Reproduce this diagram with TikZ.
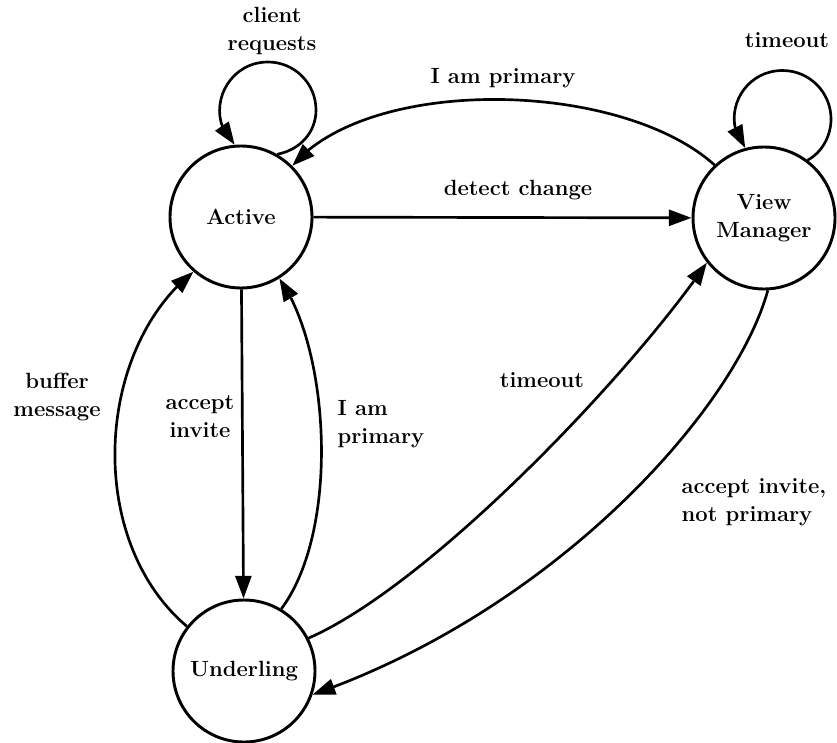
\documentclass[tikz,border=0pt]{standalone}
\usetikzlibrary{arrows.meta,bending}
\begin{document}
\begin{tikzpicture}[x=0.75pt,y=-0.75pt,
  >={Triangle[length=17pt,width=12pt]},
  state/.style={circle,draw,line width=2.2pt,minimum size=106.5pt,inner sep=0pt,align=center,font=\fontsize{16.5}{21}\selectfont\bfseries},
  lbl/.style={inner sep=1pt,align=center,font=\fontsize{16.5}{21}\selectfont\bfseries},
  edge/.style={line width=2pt,->}]
\useasboundingbox (0,0) rectangle (837,742);
\node[state] (A) at (241,217) {Active};
\node[state] (V) at (764,218) {View\\Manager};
\node[state] (U) at (244,671) {Underling};
% self loops
\draw[edge] (A.60) .. controls (299.4,150.1) and (316,132.85) .. (316,110)
  .. controls (316,83.5) and (294.5,62) .. (268,62)
  .. controls (224.5,62) and (203,115.5) .. (A.95);
\draw[edge] (V.53) .. controls (821.7,152.6) and (831,136.3) .. (831,119)
  .. controls (831,92.2) and (809.3,70.5) .. (782.5,70.5)
  .. controls (741.5,70.5) and (719.5,117.7) .. (V.105);
% straight
\draw[edge] (A) -- (V);
\draw[edge] (A) -- (U);
% curves
\draw[edge] (V.133) .. controls (620,80) and (370,75) .. (A.45);
\draw[edge] (U.142) .. controls (85,540) and (95,350) .. (A.229);
\draw[edge] (U.59) .. controls (340,530) and (330,350) .. (A.302.5);
\draw[edge] (U.27) .. controls (430,585) and (630,375) .. (V.218);
\draw[edge] (V.273) .. controls (735,410) and (555,610) .. (U.341);
% labels
\node[lbl] (l1) at (272,31) {client\\requests};
\node[lbl] (l2) at (787,40) {timeout};
\node[lbl] (l3) at (503,78) {I am primary};
\node[lbl] (l4) at (518,190) {detect change};
\node[lbl] (l5) at (57,397) {buffer\\message};
\node[lbl] (l6) at (200,417) {accept\\invite};
\node[lbl,anchor=west,align=left] (l7) at (336,424) {I am\\primary};
\node[lbl] (l8) at (542,380) {timeout};
\node[lbl,anchor=west,align=left] (l9) at (680,502) {accept invite,\\not primary};
\end{tikzpicture}
\end{document}
